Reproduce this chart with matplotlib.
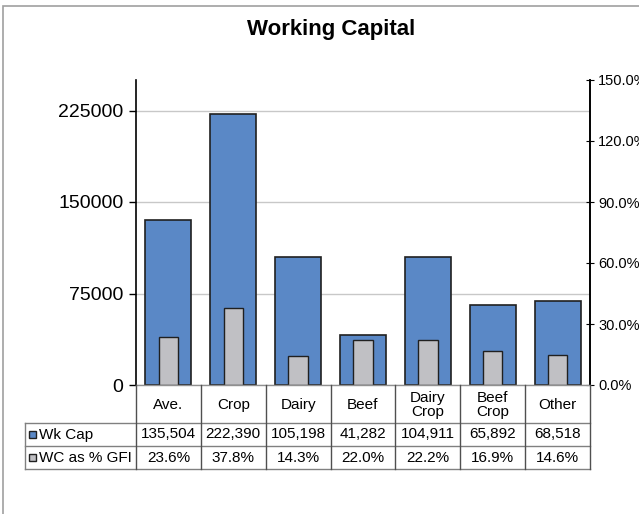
import matplotlib.pyplot as plt
from matplotlib.patches import Rectangle
from matplotlib.lines import Line2D
from matplotlib.ticker import FuncFormatter
from matplotlib.transforms import blended_transform_factory

plt.rcParams['font.family'] = ['Liberation Sans', 'DejaVu Sans']

categories = ['Ave.', 'Crop', 'Dairy', 'Beef', 'Dairy\nCrop', 'Beef\nCrop', 'Other']
wk_cap = [135504, 222390, 105198, 41282, 104911, 65892, 68518]
wc_pct = [23.6, 37.8, 14.3, 22.0, 22.2, 16.9, 14.6]
wk_labels = ['135,504', '222,390', '105,198', '41,282', '104,911', '65,892', '68,518']
pct_labels = ['23.6%', '37.8%', '14.3%', '22.0%', '22.2%', '16.9%', '14.6%']

W, H = 639, 514
blue = '#5A88C6'
grey = '#C0C0C4'
edge = '#202020'


def fx(x):
    return x / W


def fy(y):
    return 1 - y / H


fig = plt.figure(figsize=(W / 100, H / 100), dpi=100)

# outer chart border
fig.patches.append(Rectangle((fx(3), fy(H + 5)), 1, fy(6) - fy(H + 5),
                             transform=fig.transFigure, fill=False,
                             edgecolor='#A0A0A0', linewidth=1.2))

fig.text(fx(331), fy(30), 'Working Capital', ha='center', va='center',
         fontsize=16, fontweight='bold')

left, right, top, bottom = 136, 590, 80, 385
ax = fig.add_axes([fx(left), fy(bottom), fx(right - left), fy(top) - fy(bottom)])
ax2 = ax.twinx()

x = range(len(categories))
ax.bar(x, wk_cap, width=0.71, color=blue, edgecolor=edge, linewidth=1.2, zorder=2)
ax2.bar(x, wc_pct, width=0.3, color=grey, edgecolor=edge, linewidth=1.0, zorder=3)

ax.set_xlim(-0.5, len(categories) - 0.5)
ax.set_ylim(0, 250000)
ax.set_yticks([0, 75000, 150000, 225000])
ax.yaxis.grid(True, color='#C8C8C8', linewidth=1)
ax.set_axisbelow(True)
ax.set_xticks([])
ax.tick_params(axis='y', labelsize=14, length=5, direction='out', width=1, pad=4)

ax2.set_ylim(0, 150)
ax2.set_yticks([0, 30, 60, 90, 120, 150])
ax2.yaxis.set_major_formatter(FuncFormatter(lambda v, p: f'{v:.1f}%'))
ax2.tick_params(axis='y', labelsize=10.5, length=6, direction='inout', width=0.8, pad=3)

for a in (ax, ax2):
    a.spines['top'].set_visible(False)
    a.spines['bottom'].set_visible(False)
    a.spines['left'].set_linewidth(1.2)
    a.spines['right'].set_linewidth(1.2)
    a.patch.set_visible(False)
ax2.spines['left'].set_visible(False)

# data table under the chart
tr = blended_transform_factory(ax.transData, fig.transFigure)
y_head, y_row1, y_row2, y_end = bottom, 423, 446, 469
line_col = '#505050'
n = len(categories)

# horizontal lines
fig.add_artist(Line2D([-0.5, n - 0.5], [fy(y_head)] * 2, transform=tr, color='#909090', lw=1))
for yy in (y_row1, y_row2, y_end):
    fig.add_artist(Line2D([fx(25), fx(right)], [fy(yy)] * 2, transform=fig.transFigure,
                          color='#808080', lw=1))
# vertical lines
for i in range(n + 1):
    fig.add_artist(Line2D([i - 0.5, i - 0.5], [fy(y_head), fy(y_end)], transform=tr,
                          color=line_col, lw=1))
fig.add_artist(Line2D([fx(25), fx(25)], [fy(y_row1), fy(y_end)], transform=fig.transFigure,
                      color='#808080', lw=1))

for i in range(n):
    fig.text(i, fy((y_head + y_row1) / 2 + 1), categories[i], transform=tr,
             ha='center', va='center', fontsize=11, linespacing=0.95)
    fig.text(i, fy((y_row1 + y_row2) / 2), wk_labels[i], transform=tr,
             ha='center', va='center', fontsize=11)
    fig.text(i, fy((y_row2 + y_end) / 2), pct_labels[i], transform=tr,
             ha='center', va='center', fontsize=11)

# legend keys in the row headers
for (yy, col, name) in ((y_row1, blue, 'Wk Cap'), (y_row2, grey, 'WC as % GFI')):
    yc = yy + 11.5
    fig.patches.append(Rectangle((fx(29), fy(yc + 3.5)), fx(7), fy(yc - 3.5) - fy(yc + 3.5),
                                 transform=fig.transFigure, facecolor=col,
                                 edgecolor=edge, linewidth=1))
    fig.text(fx(39), fy(yc), name, ha='left', va='center', fontsize=11)

fig.savefig('out.png', dpi=100)
